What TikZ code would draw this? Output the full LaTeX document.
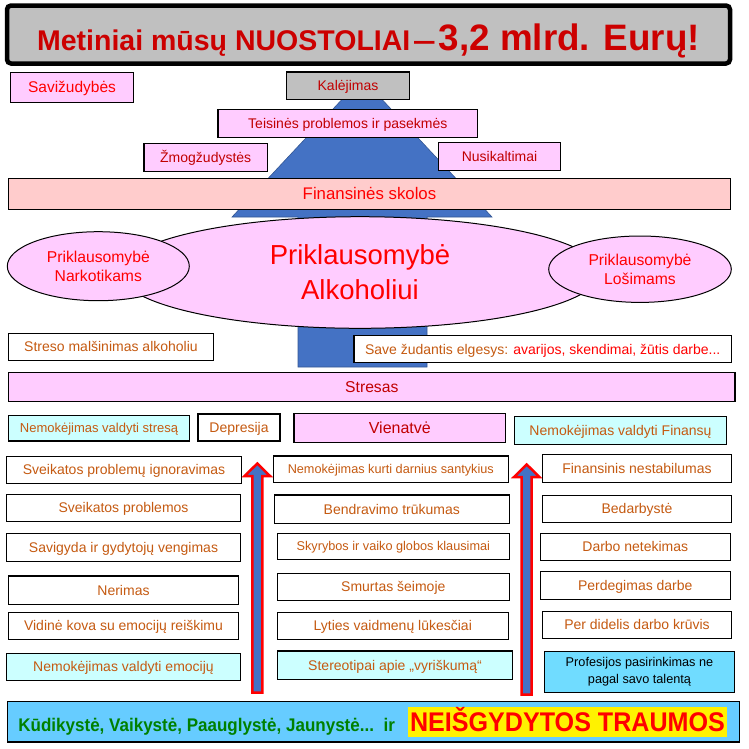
\documentclass[tikz,border=0pt]{standalone}
\usepackage{fontspec}
\setmainfont{Liberation Sans}
\newfontfamily\narrowsans[FakeStretch=0.93]{Liberation Sans}
\usetikzlibrary{shapes.geometric}

\definecolor{pinkfill}{HTML}{FFCCFF}
\definecolor{salmonfill}{HTML}{FFCCCC}
\definecolor{grayfill}{HTML}{C0C0C0}
\definecolor{cyanfill}{HTML}{CCFFFF}
\definecolor{skyfill}{HTML}{70DCFF}
\definecolor{bottomfill}{HTML}{66CCFF}
\definecolor{shapeblue}{HTML}{4472C4}
\definecolor{titlered}{HTML}{CC0000}
\definecolor{darkred}{HTML}{C00000}
\definecolor{brightred}{HTML}{FF0000}
\definecolor{orangetext}{HTML}{C55A11}
\definecolor{greentext}{HTML}{008000}

\begin{document}
        \begin{tikzpicture}[x=1pt, y=-1pt,
            dims/.style 2 args={minimum width=#1pt, minimum height=#2pt},
            lbox/.style={rectangle, draw=black, line width=1.2pt, inner sep=0pt,
                text height=12.7pt, text depth=3pt, font=\fontsize{14}{17}\selectfont},
            whitebox/.style={lbox, fill=white, text=orangetext},
            cyanbox/.style={lbox, fill=cyanfill, text=orangetext},
            pinkbox/.style={lbox, fill=pinkfill, text=darkred},
            smalltext/.style={font=\fontsize{12.7}{15}\selectfont, text height=11.5pt, text depth=2.7pt},
            oval/.style={ellipse, draw=black, line width=1pt, fill=pinkfill,
                text=brightred, align=center, inner sep=0pt},
            uparrow/.style={draw=red, line width=2.5pt, fill=shapeblue, line join=miter}]
            \useasboundingbox (0,0) rectangle (749,748);

            \node[draw=black, line width=4.5pt, rounded corners=4pt, fill=grayfill, dims={723}{58},
                inner sep=0pt, text=titlered, text height=31pt, text depth=0pt, font=\bfseries]
                (title) at (368.5,34.5) {{\fontsize{28.5}{30}\selectfont Metiniai mūsų NUOSTOLIAI\hspace{2.5pt}\scalebox{1.45}[1]{–}\hspace{3pt}}{\fontsize{36.8}{40}\selectfont 3,2 mlrd. Eurų!}};

            \filldraw[fill=shapeblue, draw=shapeblue!75!black, line width=0.6pt]
            (362,78) -- (492,217) -- (427,217) -- (427,367) -- (298,367) -- (298,217) -- (232,217) -- cycle;

            \node[pinkbox, dims={123}{30}, text=brightred, font=\fontsize{15.5}{18}\selectfont,
                text height=14pt, text depth=3.3pt] (savi) at (72,87.3) {Savižudybės};
            \node[pinkbox, dims={122.6}{27.3}, fill=grayfill] (kalej) at (348,85.7) {Kalėjimas};
            \node[pinkbox, dims={259.7}{28}] (teis) at (347.8,123.3) {Teisinės problemos ir pasekmės};
            \node[pinkbox, dims={123.3}{28}] (zmog) at (205.7,157.3) {Žmogžudystės};
            \node[pinkbox, dims={122.3}{27.5}] (nusik) at (499.5,156.5) {Nusikaltimai};
            \node[pinkbox, dims={721.8}{31}, fill=salmonfill, text=brightred, font=\fontsize{16.8}{20}\selectfont,
                text height=15.2pt, text depth=3.6pt] (skolos) at (369.5,193.8) {Finansinės skolos};

            \node[oval, dims={480}{111.6}, font=\fontsize{27.5}{35}\selectfont] (alko) at (360,272.5) {Priklausomybė\\Alkoholiui};
            \node[oval, dims={182}{69}, font=\fontsize{15.7}{19.5}\selectfont] (nark) at (98.3,266.2) {Priklausomybė\\Narkotikams};
            \node[oval, dims={182.6}{66.4}, font=\fontsize{15.7}{19.5}\selectfont] (losim) at (640,269.2) {Priklausomybė\\Lošimams};

            \node[whitebox, dims={204.7}{27.4}] (streso) at (111,347) {Streso malšinimas alkoholiu};
            \node[whitebox, dims={377.4}{27}, text=brightred] (save) at (542.7,349.2) {\textcolor{orangetext}{Save žudantis elgesys:} avarijos, skendimai, žūtis darbe...};
            \node[pinkbox, dims={726.4}{29}, font=\fontsize{15.7}{19}\selectfont,
                text height=14.2pt, text depth=3.3pt] (stresas) at (371.8,386.8) {Stresas};

            \node[cyanbox, dims={180.8}{25.3}, font=\fontsize{13}{16}\selectfont,
                text height=11.8pt, text depth=2.8pt] (nvstres) at (99,428.3) {Nemokėjimas valdyti stresą};
            \node[whitebox, dims={82}{27}] (depres) at (239,427.5) {Depresija};
            \node[pinkbox, dims={211.8}{29}, font=\fontsize{16}{19}\selectfont,
                text height=14.5pt, text depth=3.4pt] (vienat) at (399.8,427.8) {Vienatvė};
            \node[cyanbox, dims={212.3}{27.6}] (nvfin) at (620.5,430.5) {Nemokėjimas valdyti Finansų};

            \node[whitebox, dims={235.4}{27}] (ignor) at (124,469.8) {Sveikatos problemų ignoravimas};
            \node[whitebox, dims={234.4}{27}] (sveik) at (123.5,507.8) {Sveikatos problemos};
            \node[whitebox, dims={234.4}{27.6}] (savig) at (123.5,547.5) {Savigyda ir gydytojų vengimas};
            \node[whitebox, dims={230.4}{28.3}] (nerim) at (123.5,590.2) {Nerimas};
            \node[whitebox, dims={230.4}{27}] (vidin) at (123.5,625.8) {Vidinė kova su emocijų reiškimu};
            \node[cyanbox, dims={234.4}{27}] (nvemoc) at (123.5,666.8) {Nemokėjimas valdyti emocijų};

            \node[whitebox, smalltext, dims={235}{26.7}] (darn) at (390.8,469.3) {Nemokėjimas kurti darnius santykius};
            \node[whitebox, dims={235}{28.3}] (bendr) at (391.8,509.2) {Bendravimo trūkumas};
            \node[whitebox, smalltext, dims={232}{26}] (skyr) at (393.3,546.3) {Skyrybos ir vaiko globos klausimai};
            \node[whitebox, dims={232}{27.4}] (smurt) at (393.3,587) {Smurtas šeimoje};
            \node[whitebox, dims={231}{27}] (lyties) at (392.8,625.8) {Lyties vaidmenų lūkesčiai};
            \node[cyanbox, dims={235.4}{28.3}] (stereo) at (395,665.2) {Stereotipai apie „vyriškumą“};

            \node[whitebox, dims={189.4}{27.6}] (finnest) at (637,468.5) {Finansinis nestabilumas};
            \node[whitebox, dims={189.4}{26.6}] (bedarb) at (637,509) {Bedarbystė};
            \node[whitebox, dims={190}{26.6}] (netek) at (635.3,547) {Darbo netekimas};
            \node[whitebox, dims={190}{27.6}] (perdeg) at (635.3,585.5) {Perdegimas darbe};
            \node[whitebox, dims={189.4}{26.6}] (kruvis) at (637,625) {Per didelis darbo krūvis};
            \node[lbox, dims={190.4}{41}, fill=skyfill, text=black, align=center, text height={}, text depth={},
                font=\fontsize{12.7}{16.7}\selectfont] (profes) at (639.5,671.8) {Profesijos pasirinkimas ne\\pagal savo talentą};

            \filldraw[uparrow] (257.3,463.5) -- (270,476) -- (262.3,476) -- (262.3,692.7)
            -- (252.3,692.7) -- (252.3,476) -- (244.6,476) -- cycle;
            \filldraw[uparrow] (526.7,464.5) -- (539.4,477) -- (531.7,477) -- (531.7,694.5)
            -- (521.7,694.5) -- (521.7,477) -- (514,477) -- cycle;

            \node[lbox, dims={732}{40.3}, fill=bottomfill] (vaikyste) at (373.3,721.8) {};
            \node[anchor=base west, inner sep=0pt, text=greentext,
                font=\narrowsans\bfseries\fontsize{18.3}{20}\selectfont] (kudik) at (18.2,731) {Kūdikystė, Vaikystė, Paauglystė, Jaunystė...\ \ ir};
            \node[fill=yellow, dims={318.5}{29.4}, inner sep=0pt, text=brightred, text height=19.5pt, text depth=1.5pt,
                font=\narrowsans\bfseries\fontsize{27}{30}\selectfont] (traumos) at (567.5,722) {NEIŠGYDYTOS TRAUMOS};
        \end{tikzpicture}
\end{document}
